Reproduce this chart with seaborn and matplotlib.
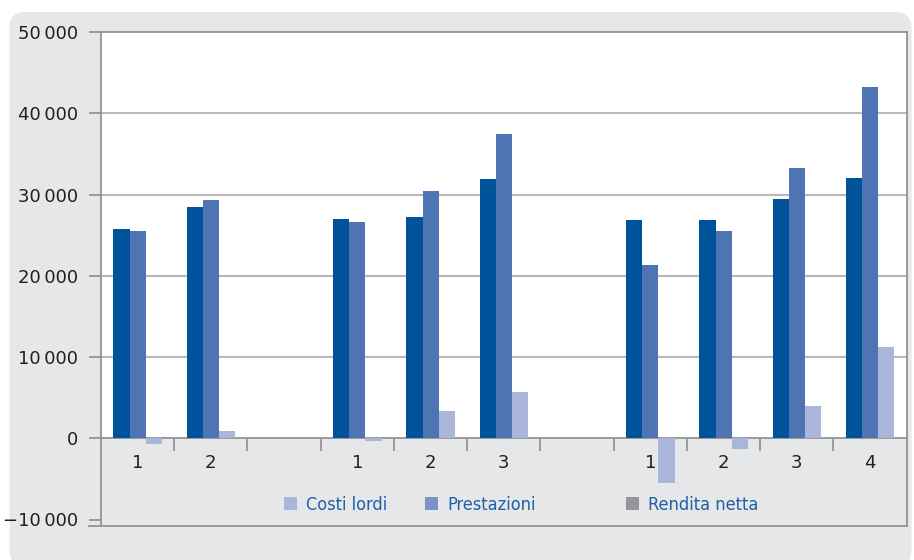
import numpy as np
import pandas as pd
import seaborn as sns
import matplotlib
matplotlib.use("Agg")
import matplotlib.pyplot as plt
from matplotlib.patches import FancyBboxPatch, Patch
from matplotlib.ticker import FixedLocator, FixedFormatter
from matplotlib.font_manager import FontProperties

# Category slots: three groups of years separated by empty slots
slots = ["a1", "a2", "gap1", "b1", "b2", "b3", "gap2", "c1", "c2", "c3", "c4"]
slot_labels = ["1", "2", "", "1", "2", "3", "", "1", "2", "3", "4"]
data_slots = ["a1", "a2", "b1", "b2", "b3", "c1", "c2", "c3", "c4"]

series = ["Costi lordi", "Prestazioni", "Rendita netta"]
costi_lordi = [25760, 28460, 26990, 27230, 31900, 26860, 26860, 29450, 32030]
prestazioni = [25510, 29300, 26620, 30430, 37440, 21330, 25510, 33260, 43220]
rendita_netta = [-650, 900, -280, 3370, 5710, -5450, -1340, 3990, 11240]

y_ticks = [-10000, 0, 10000, 20000, 30000, 40000, 50000]

bar_colors = ["#00529b", "#4f74b3", "#a9b5d9"]
legend_colors = ["#a9b5d9", "#7b93c7", "#949598"]
card_color = "#e6e7e8"
line_grey = "#939393"
grid_grey = "#b8b8b8"
text_dark = "#231f20"
legend_text = "#1f5fa6"

df = pd.DataFrame({
    "slot": data_slots * 3,
    "serie": np.repeat(series, len(data_slots)),
    "value": costi_lordi + prestazioni + rendita_netta,
})

W, H = 914, 560
fig = plt.figure(figsize=(W / 100, H / 100), dpi=100, facecolor="white")

# rounded grey card behind the chart
card = FancyBboxPatch((9.5 / 100, -0.06), 902 / 100, 5.54,
                      boxstyle="round,pad=0,rounding_size=0.16",
                      transform=fig.dpi_scale_trans, facecolor=card_color,
                      edgecolor="none", zorder=0)
fig.add_artist(card)

left, right, top, bottom = 101, 906.7, 32, 526
ax = fig.add_axes([left / W, 1 - bottom / H, (right - left) / W, (bottom - top) / H])
ax.set_facecolor(card_color)
ax.set_zorder(1)

y_min, y_max = -10800, 50000
ax.axhspan(0, y_max, color="white", zorder=0, lw=0)
for v in y_ticks[2:-1]:
    ax.axhline(v, color=grid_grey, lw=1.5, zorder=1)

sns.barplot(data=df, x="slot", y="value", hue="serie", order=slots,
            hue_order=series, palette=bar_colors, width=0.66, saturation=1,
            errorbar=None, legend=False, linewidth=0, zorder=2, ax=ax)

ax.set_xlim(-0.5, len(slots) - 0.5)
ax.set_ylim(y_min, y_max)
ax.set_xlabel("")
ax.set_ylabel("")

for s in ["left", "right", "top", "bottom"]:
    ax.spines[s].set_color(line_grey)
    ax.spines[s].set_linewidth(1.3)
ax.spines["bottom"].set_position(("data", 0))
ax.spines["bottom"].set_zorder(1.5)
# closing line of the frame at the bottom, with its tick stub to the left
ax.axhline(y_min, xmin=-12 / (right - left), xmax=1, color=line_grey,
           lw=1.3, clip_on=False, zorder=3)

# y axis
ax.yaxis.set_major_locator(FixedLocator(y_ticks))
ax.yaxis.set_major_formatter(FixedFormatter(
    [f"{v:,}".replace(",", "\u2009").replace("-", "\u2212") for v in y_ticks]))
ax.tick_params(axis="y", length=8.6, width=1.3, color=line_grey, pad=8,
               labelsize=13, labelcolor=text_dark)

# x axis: labels under the zero line, separators between slots
ax.xaxis.set_major_locator(FixedLocator(range(len(slots))))
ax.xaxis.set_major_formatter(FixedFormatter(slot_labels))
ax.xaxis.set_minor_locator(FixedLocator(np.arange(0.5, len(slots) - 1, 1.0)))
ax.tick_params(axis="x", which="major", length=0, pad=11, labelsize=13,
               labelcolor=text_dark)
ax.tick_params(axis="x", which="minor", length=9.4, width=1.3, color=line_grey)

# legend entries placed individually along the bottom
legend_font = FontProperties(family="DejaVu Sans", stretch="condensed", size=13)
legend_x = [284, 425, 626]
legend_y = 505
for name, col, lx in zip(series, legend_colors, legend_x):
    fig.legend(handles=[Patch(facecolor=col, edgecolor="none", label=name)],
               loc="center left", bbox_to_anchor=(lx / W, 1 - legend_y / H),
               frameon=False, borderpad=0, borderaxespad=0,
               handlelength=0.72, handleheight=0.72, handletextpad=0.5,
               prop=legend_font, labelcolor=legend_text)

fig.savefig("out.png", dpi=100, facecolor="white")
